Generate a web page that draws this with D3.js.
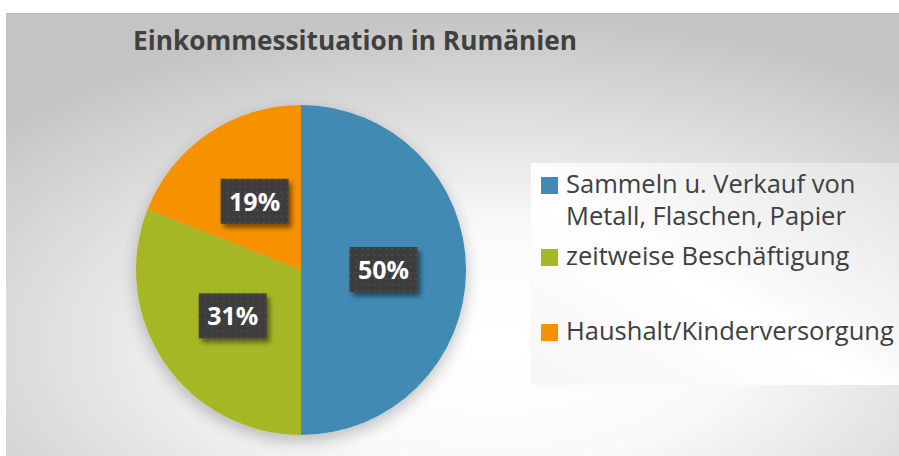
<!DOCTYPE html>
<html>
<head>
<meta charset="utf-8">
<script src="https://cdn.jsdelivr.net/npm/d3@7"></script>
<style>
  body { margin: 0; background: white; }
  svg { display: block; }
</style>
</head>
<body>
<script>
// data
var categories = ["Sammeln u. Verkauf von Metall, Flaschen, Papier", "zeitweise Beschäftigung", "Haushalt/Kinderversorgung"]
var values = [50, 31, 19]
var legendLines = [["Sammeln u. Verkauf von", "Metall, Flaschen, Papier"], ["zeitweise Beschäftigung"], ["Haushalt/Kinderversorgung"]]
var colors = ["#418AB3", "#A6B727", "#F69200"]
var title = "Einkommessituation in Rumänien"

var W = 899, H = 456
var svg = d3.select("body").append("svg").attr("width", W).attr("height", H)
var defs = svg.append("defs")

// background gradient of the chart area
var bg = defs.append("radialGradient").attr("id", "bg")
  .attr("cx", "0.55").attr("cy", "0.75").attr("r", "0.75")
bg.append("stop").attr("offset", "0").attr("stop-color", "#ffffff")
bg.append("stop").attr("offset", "0.35").attr("stop-color", "#fafafa")
bg.append("stop").attr("offset", "1").attr("stop-color", "#c4c4c4")

var lg = defs.append("linearGradient").attr("id", "legbg").attr("x1", 0).attr("x2", 1).attr("y1", 1).attr("y2", 0)
lg.append("stop").attr("offset", "0").attr("stop-color", "#f6f6f6")
lg.append("stop").attr("offset", "0.45").attr("stop-color", "#ffffff")
lg.append("stop").attr("offset", "1").attr("stop-color", "#e2e2e2")

var pat = defs.append("pattern").attr("id", "dots").attr("patternUnits", "userSpaceOnUse")
  .attr("width", 6).attr("height", 6)
pat.append("rect").attr("width", 6).attr("height", 6).attr("fill", "#3d3d3d")
pat.append("rect").attr("x", 2).attr("y", 2).attr("width", 1.5).attr("height", 1.5).attr("fill", "#555")

var sh = defs.append("filter").attr("id", "shadow").attr("x", "-30%").attr("y", "-30%").attr("width", "160%").attr("height", "160%")
sh.append("feGaussianBlur").attr("in", "SourceAlpha").attr("stdDeviation", 2.5)
sh.append("feOffset").attr("dx", 3).attr("dy", 4).attr("result", "b")
sh.append("feComponentTransfer").append("feFuncA").attr("type", "linear").attr("slope", 0.5)
var m = sh.append("feMerge")
m.append("feMergeNode")
m.append("feMergeNode").attr("in", "SourceGraphic")

var psh = defs.append("filter").attr("id", "pieshadow").attr("x", "-30%").attr("y", "-30%").attr("width", "160%").attr("height", "160%")
psh.append("feGaussianBlur").attr("in", "SourceAlpha").attr("stdDeviation", 8)
psh.append("feOffset").attr("dx", 0).attr("dy", 6).attr("result", "b")
psh.append("feComponentTransfer").append("feFuncA").attr("type", "linear").attr("slope", 0.25)
var m2 = psh.append("feMerge")
m2.append("feMergeNode")
m2.append("feMergeNode").attr("in", "SourceGraphic")

// chart area
svg.append("rect").attr("x", 6).attr("y", 13).attr("width", W - 6).attr("height", H - 13)
  .attr("fill", "url(#bg)")
svg.append("line").attr("x1", 6).attr("x2", W).attr("y1", 13.5).attr("y2", 13.5)
  .attr("stroke", "#b8b8b8").attr("stroke-width", 1)

svg.append("text").attr("x", 133).attr("y", 50)
  .attr("font-family", "Open Sans, sans-serif").attr("font-weight", "bold")
  .attr("font-size", 26).attr("fill", "#404040")
  .text(title)
  .attr("textLength", 444).attr("lengthAdjust", "spacingAndGlyphs")

// pie
var cx = 301, cy = 270, r = 165
var pie = d3.pie().sort(null).value(function(d) { return d })
var arc = d3.arc().innerRadius(0).outerRadius(r)
var labelArc = d3.arc().innerRadius(r * 0.5).outerRadius(r * 0.5)
var arcs = pie(values)

var g = svg.append("g").attr("transform", "translate(" + cx + "," + cy + ")")
g.append("g").attr("filter", "url(#pieshadow)")
  .selectAll("path").data(arcs).enter().append("path")
  .attr("d", arc).attr("fill", function(d, i) { return colors[i] })

var labels = g.selectAll("g.lab").data(arcs).enter().append("g").attr("class", "lab")
  .attr("transform", function(d) { return "translate(" + labelArc.centroid(d) + ")" })
labels.append("rect").attr("x", -34).attr("y", -23).attr("width", 68).attr("height", 45)
  .attr("fill", "url(#dots)").attr("filter", "url(#shadow)")
labels.append("text").attr("y", 9).attr("text-anchor", "middle")
  .attr("font-family", "Open Sans, sans-serif").attr("font-weight", "bold")
  .attr("font-size", 25).attr("fill", "white")
  .text(function(d) { return d.data + "%" })

// legend
svg.append("rect").attr("x", 531).attr("y", 163).attr("width", W - 531).attr("height", 222)
  .attr("fill", "url(#legbg)")
var rowY = [[193, 225], [265], [340]]
var leg = svg.append("g")
categories.forEach(function(c, i) {
  leg.append("rect").attr("x", 541).attr("y", rowY[i][0] - 16).attr("width", 17).attr("height", 17)
    .attr("fill", colors[i])
  legendLines[i].forEach(function(t, j) {
    leg.append("text").attr("x", 566).attr("y", rowY[i][j])
      .attr("font-family", "Open Sans, sans-serif").attr("font-size", 25.5)
      .attr("fill", "#404040").text(t)
  })
})
</script>
</body>
</html>
